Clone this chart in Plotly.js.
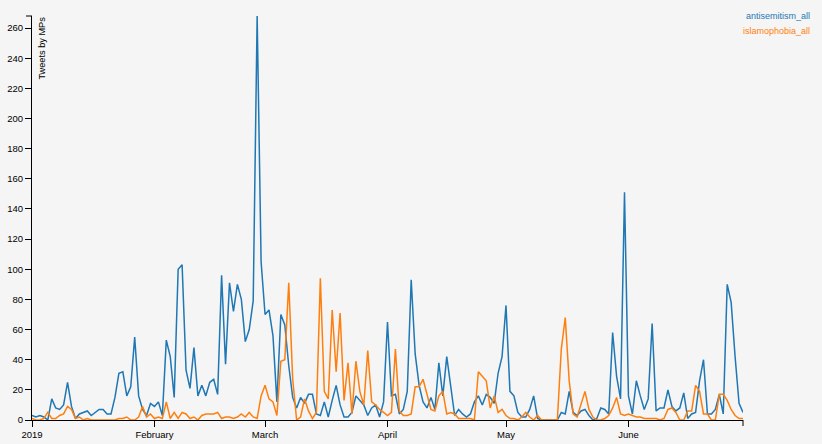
<!DOCTYPE html>
<html>
<head>
<meta charset="utf-8">
<script src="https://cdn.plot.ly/plotly-3.0.1.min.js"></script>
<style>
html,body{margin:0;padding:0;background:#f5f5f5;}
#chart{width:822px;height:444px;}
</style>
</head>
<body>
<div id="chart"></div>
<script>
// Daily counts, 2019-01-01 .. 2019-06-30
const startDate = "2019-01-01";
const antisemitismJan = [3,2,3,2,0,14,8,7,10,25,9,1,4,5,6,3,5,7,7,4,4,15,31,32,16,22,55,16,7,3,11];
const antisemitismFeb = [9,12,3,53,42,15,100,103,33,21,48,16,23,16,25,27,17,96,37,91,72,90,80,52,60,79,268,105];
const antisemitismMar = [70,73,56,12,70,63,36,15,8,15,11,17,17,4,3,12,2,13,23,10,2,2,5,16,13,10,3,8,10,2,12];
const antisemitismApr = [65,16,17,4,7,19,93,44,23,12,8,15,7,38,16,42,23,3,7,4,2,4,12,16,10,17,15,11,31,42];
const antisemitismMay = [76,19,16,5,2,2,7,16,1,0,0,0,0,0,5,4,19,5,3,6,7,3,0,1,8,7,4,58,29,14,151];
const antisemitismJun = [16,4,26,16,7,14,64,6,8,8,20,9,6,8,18,1,4,5,26,40,4,4,7,17,4,90,78,42,11,5];

const islamophobiaJan = [1,0,0,1,5,1,1,3,4,9,7,1,2,0,1,0,0,0,0,0,0,0,1,1,2,0,0,2,9,2,4];
const islamophobiaFeb = [1,2,1,12,1,5,1,5,4,1,2,0,3,4,4,4,5,1,2,2,1,2,4,2,5,2,1,16];
const islamophobiaMar = [23,14,12,3,39,40,91,27,0,2,14,6,1,5,94,19,14,73,32,71,13,38,4,39,19,10,46,12,10,7,5];
const islamophobiaApr = [3,5,47,6,3,3,4,22,22,27,16,7,6,16,19,4,5,4,1,1,1,1,0,32,29,26,8,16,5,7];
const islamophobiaMay = [3,1,1,0,2,5,2,0,3,0,0,0,0,0,47,68,26,4,2,11,19,7,2,0,0,1,3,8,15,4,3];
const islamophobiaJun = [4,3,2,2,1,1,1,1,0,1,7,8,5,0,0,6,6,23,19,4,4,0,0,17,17,13,7,3,1,1];

const seriesNames = ["antisemitism_all","islamophobia_all"];
const seriesColors = ["#1f77b4","#ff7f0e"];
const tickDates = ["2019-01-01","2019-02-01","2019-03-01","2019-04-01","2019-05-01","2019-06-01"];
const tickLabels = ["2019","February","March","April","May","June"];
const yTicks = [0,20,40,60,80,100,120,140,160,180,200,220,240,260];
const yTitle = "Tweets by MPs";

const antisemitism = [].concat(antisemitismJan,antisemitismFeb,antisemitismMar,antisemitismApr,antisemitismMay,antisemitismJun);
const islamophobia = [].concat(islamophobiaJan,islamophobiaFeb,islamophobiaMar,islamophobiaApr,islamophobiaMay,islamophobiaJun);

function dayList(n){
  const out=[]; const t0=Date.UTC(2019,0,1);
  for(let i=0;i<n;i++){ const d=new Date(t0+i*86400000); out.push(d.toISOString().slice(0,10)); }
  return out;
}
const dates = dayList(antisemitism.length);
const yMax = Math.max(...antisemitism, ...islamophobia);

const traces = [antisemitism, islamophobia].map((vals,i)=>({
  type:"scatter", mode:"lines", x:dates, y:vals, name:seriesNames[i],
  line:{color:seriesColors[i], width:1.5}, hoverinfo:"x+y"
}));

const fontFam = "Liberation Sans, Arial, sans-serif";
const layout = {
  width:822, height:444,
  margin:{l:32, r:79, t:16, b:24, pad:0},
  paper_bgcolor:"#f5f5f5", plot_bgcolor:"#f5f5f5",
  showlegend:false,
  font:{family:fontFam, size:9.5, color:"#000"},
  xaxis:{
    type:"date", range:[dates[0], dates[dates.length-1]],
    tickvals:tickDates, ticktext:tickLabels,
    showgrid:false, zeroline:false, showline:true, linecolor:"#000", linewidth:1,
    ticks:"outside", ticklen:6, tickcolor:"#000", tickwidth:1,
    tickfont:{family:fontFam, size:9.5, color:"#000"}, fixedrange:true
  },
  yaxis:{
    range:[0, yMax], tickvals:yTicks,
    showgrid:false, zeroline:false, showline:true, linecolor:"#000", linewidth:1,
    ticks:"outside", ticklen:6, tickcolor:"#000", tickwidth:1,
    tickfont:{family:fontFam, size:9.5, color:"#000"}, fixedrange:true
  },
  shapes:[
    {type:"line", xref:"paper", yref:"paper", x0:1, x1:1, ysizemode:"pixel", yanchor:0, y0:0, y1:-6, line:{color:"#000", width:1}},
    {type:"line", xref:"paper", yref:"paper", y0:1, y1:1, xsizemode:"pixel", xanchor:0, x0:-6, x1:0, line:{color:"#000", width:1}}
  ],
  annotations:[
    {xref:"paper", yref:"paper", x:0, y:1, xanchor:"left", yanchor:"top", xshift:2, yshift:1,
     text:yTitle, textangle:-90, showarrow:false, font:{family:fontFam, size:9.2, color:"#000"}},
    {xref:"paper", yref:"paper", x:1.097, y:1, xanchor:"right", yanchor:"middle", showarrow:false,
     text:seriesNames[0], font:{family:fontFam, size:9, color:seriesColors[0]}},
    {xref:"paper", yref:"paper", x:1.097, y:0.963, xanchor:"right", yanchor:"middle", showarrow:false,
     text:seriesNames[1], font:{family:fontFam, size:9, color:seriesColors[1]}}
  ]
};

Plotly.newPlot("chart", traces, layout, {displayModeBar:false, staticPlot:true});
</script>
</body>
</html>
